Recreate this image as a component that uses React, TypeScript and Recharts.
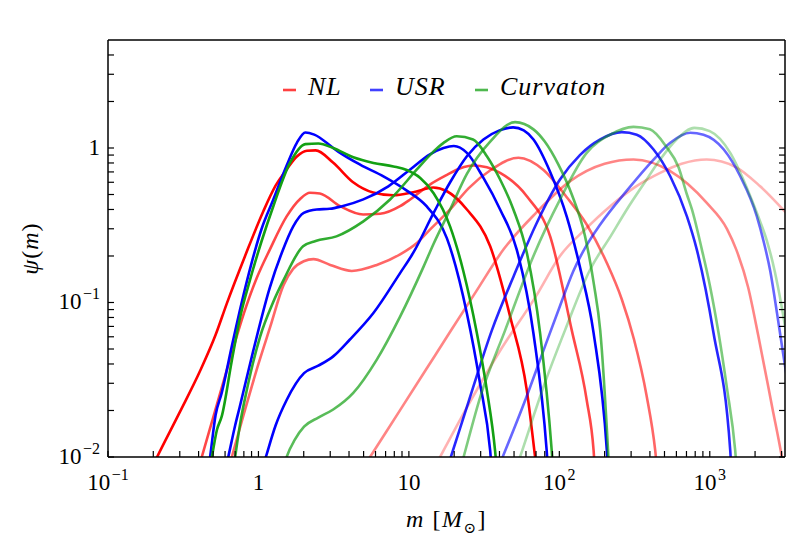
import { LineChart, Line, XAxis, YAxis, Legend, Label } from 'recharts'

const SERIF = '"Liberation Serif", "DejaVu Serif", serif'

// figure + axes box in page pixels (axes are 1px thick, so the box is 108..785 x 40..457)
const W = 789
const H = 548
const MARGIN = { top: 39, right: 3, bottom: 90, left: 107 }
const BOX = { left: 108, top: 40, right: 785, bottom: 457 }

const X_DOMAIN: [number, number] = [0.1, 3162.3]
const Y_DOMAIN: [number, number] = [0.01, 5]
const X_DECADES = [0.1, 1, 10, 100, 1000]
const Y_DECADES = [0.01, 0.1, 1]
const MANTISSAS = [1, 2, 3, 4, 5, 6, 7, 8, 9]

const RED = '#ff0000'
const BLUE = '#0000ff'
const GREEN = '#13a013'

// psi(m) curves, [m (M_sun), psi]
const NL_1: [number, number][] = [
  [0.2, 0.0089], [0.212, 0.01], [0.3, 0.0195], [0.409, 0.036], [0.52, 0.062], [0.615, 0.098],
  [0.815, 0.2], [1.078, 0.39], [1.3, 0.57], [1.54, 0.726], [1.8, 0.88], [2.1, 0.96], [2.4, 0.965],
  [3.13, 0.805], [4.26, 0.6], [5.78, 0.515], [7.85, 0.494], [10.7, 0.517], [14.5, 0.555],
  [17.9, 0.525], [24.3, 0.4], [34.7, 0.231], [47.1, 0.081], [60.8, 0.027], [69, 0.01], [74, 0.0055],
]
const NL_2: [number, number][] = [
  [0.4, 0.0085], [0.42, 0.01], [0.5, 0.018], [0.647, 0.043], [0.8, 0.085], [0.974, 0.144],
  [1.19, 0.22], [1.54, 0.361], [1.9, 0.47], [2.2, 0.513], [2.56, 0.507], [3.49, 0.42], [4.96, 0.371],
  [6.44, 0.375], [8.74, 0.42], [10.2, 0.464], [13.8, 0.58], [17.9, 0.67], [22, 0.74], [26.7, 0.77],
  [33, 0.75], [40.4, 0.69], [60.8, 0.487], [86.9, 0.268], [121, 0.066], [152, 0.0234], [169, 0.011],
  [176, 0.006],
]
const NL_3: [number, number][] = [
  [0.63, 0.0083], [0.665, 0.01], [0.8, 0.019], [1.0, 0.04], [1.2, 0.07], [1.47, 0.13], [1.7, 0.165],
  [2.0, 0.185], [2.32, 0.191], [3.0, 0.175], [4.17, 0.16], [6.12, 0.175], [8.74, 0.205],
  [11.3, 0.243], [13.8, 0.296], [18.8, 0.4], [25, 0.55], [35, 0.72], [53.5, 0.864], [78.5, 0.72],
  [112, 0.48], [152, 0.32], [207, 0.18], [260, 0.105], [313, 0.058], [380, 0.025], [434, 0.011],
  [455, 0.007],
]
const NL_4: [number, number][] = [
  [5.0, 0.0086], [5.52, 0.01], [8.74, 0.0201], [13, 0.0368], [18.8, 0.0646], [28, 0.118],
  [42.5, 0.22], [70, 0.38], [118, 0.61], [200, 0.79], [311, 0.842], [546, 0.708], [955, 0.441],
  [1300, 0.3], [1500, 0.22], [1800, 0.125], [2108, 0.06], [2600, 0.021], [3013, 0.01], [3200, 0.007],
]
const NL_5: [number, number][] = [
  [15, 0.0088], [16.1, 0.01], [25, 0.022], [40, 0.048], [70, 0.11], [101, 0.2], [150, 0.3],
  [218, 0.42], [320, 0.56], [468, 0.69], [650, 0.79], [955, 0.842], [1500, 0.75], [2162, 0.565],
  [3300, 0.37],
]

const USR_1: [number, number][] = [
  [0.46, 0.0078], [0.477, 0.01], [0.519, 0.0187], [0.57, 0.026], [0.665, 0.052], [0.774, 0.1],
  [0.9, 0.18], [1.05, 0.3], [1.256, 0.464], [1.54, 0.77], [1.8, 1.08], [2.05, 1.26], [2.35, 1.22],
  [3.14, 1.0], [3.49, 0.93], [4.74, 0.78], [6.77, 0.655], [9.68, 0.53], [13.1, 0.42], [17.9, 0.26],
  [24.3, 0.085], [29.7, 0.03], [34.7, 0.011], [36.5, 0.006],
]
const USR_2: [number, number][] = [
  [0.61, 0.0087], [0.63, 0.01], [0.7, 0.016], [0.75, 0.021], [0.925, 0.049], [1.19, 0.125],
  [1.43, 0.21], [1.7, 0.31], [2.0, 0.38], [2.44, 0.4], [2.98, 0.404], [3.6, 0.42], [4.98, 0.465],
  [7.3, 0.565], [10.2, 0.726], [13.8, 0.91], [17, 1.0], [19.9, 1.03], [24.3, 0.93], [31.3, 0.64],
  [40.4, 0.4], [52.1, 0.22], [67.3, 0.063], [82.4, 0.011], [86, 0.006],
]
const USR_3: [number, number][] = [
  [1.08, 0.0089], [1.12, 0.01], [1.3, 0.016], [1.54, 0.0234], [2.01, 0.0349], [2.5, 0.039],
  [3.14, 0.0448], [4.04, 0.0574], [5.81, 0.0855], [8.74, 0.155], [10.7, 0.21], [14.6, 0.38],
  [18.8, 0.6], [24.3, 0.885], [31.3, 1.135], [40, 1.3], [49.3, 1.36], [58, 1.3], [67.3, 1.135],
  [86.9, 0.7], [112, 0.36], [137, 0.17], [169, 0.0634], [207, 0.011], [215, 0.006],
]
const USR_4: [number, number][] = [
  [18, 0.0085], [19, 0.01], [25, 0.023], [35.6, 0.066], [50, 0.15], [70, 0.32], [101, 0.625],
  [137, 0.9], [187, 1.135], [260, 1.266], [327, 1.22], [423, 0.978], [546, 0.656], [705, 0.361],
  [820, 0.22], [1059, 0.0634], [1368, 0.011], [1420, 0.006],
]
const USR_5: [number, number][] = [
  [40, 0.0089], [42, 0.01], [60, 0.024], [78.5, 0.049], [101, 0.095], [124, 0.16], [150, 0.23],
  [187, 0.32], [281, 0.53], [423, 0.842], [546, 1.08], [741, 1.254], [908, 1.22], [1239, 0.978],
  [1594, 0.656], [2056, 0.361], [2300, 0.24], [2523, 0.16], [2800, 0.085], [3090, 0.045],
  [3300, 0.03],
]

const CUR_1: [number, number][] = [
  [0.47, 0.0081], [0.49, 0.01], [0.53, 0.015], [0.57, 0.0183], [0.665, 0.042], [0.755, 0.08],
  [0.879, 0.14], [1.05, 0.25], [1.256, 0.42], [1.62, 0.8], [2.05, 1.06], [2.5, 1.07], [3.14, 1.0],
  [4.27, 0.87], [5.81, 0.8], [7.9, 0.76], [9.68, 0.72], [11.9, 0.64], [14.6, 0.51], [18.8, 0.31],
  [23, 0.16], [28.3, 0.0634], [33, 0.027], [37.4, 0.011], [39, 0.007],
]
const CUR_2: [number, number][] = [
  [0.68, 0.0082], [0.7, 0.01], [0.76, 0.017], [0.836, 0.027], [1.025, 0.06], [1.25, 0.1],
  [1.47, 0.14], [1.98, 0.231], [2.4, 0.25], [3.3, 0.268], [4.98, 0.335], [7.5, 0.464],
  [11.3, 0.726], [13.8, 0.9], [17, 1.08], [20.8, 1.19], [26.7, 1.135], [33, 0.885], [40.4, 0.625],
  [49.5, 0.4], [60.8, 0.21], [74.5, 0.0634], [89, 0.011], [93, 0.006],
]
const CUR_3: [number, number][] = [
  [1.48, 0.0088], [1.54, 0.01], [1.75, 0.013], [2.01, 0.0157], [2.5, 0.018], [3.14, 0.0203],
  [4.27, 0.026], [6.12, 0.0427], [8.74, 0.081], [12.5, 0.17], [14.6, 0.24], [18.8, 0.4],
  [24.3, 0.68], [34.7, 1.1], [50.8, 1.47], [67.3, 1.32], [80, 1.1], [98.6, 0.78], [121, 0.5],
  [148, 0.27], [170, 0.13], [187, 0.066], [212, 0.01], [218, 0.006],
]
const CUR_4: [number, number][] = [
  [22, 0.0084], [23.1, 0.01], [30, 0.025], [43.6, 0.066], [67.3, 0.2], [101, 0.463], [152, 0.93],
  [218, 1.22], [311, 1.37], [400, 1.32], [510, 1.03], [620, 0.75], [705, 0.5], [761, 0.4],
  [886, 0.22], [1000, 0.13], [1144, 0.0634], [1300, 0.028], [1476, 0.011], [1550, 0.006],
]
const CUR_5: [number, number][] = [
  [52, 0.0086], [54.8, 0.01], [80, 0.03], [109, 0.066], [160, 0.163], [220, 0.27], [281, 0.4],
  [370, 0.6], [468, 0.842], [601, 1.135], [790, 1.35], [1000, 1.285], [1368, 0.93], [1754, 0.56],
  [2100, 0.36], [2400, 0.25], [2700, 0.16], [3000, 0.095], [3300, 0.055],
]

const SERIES = [
  { key: 'nl5', color: RED, alpha: 0.3, points: NL_5 },
  { key: 'nl4', color: RED, alpha: 0.48, points: NL_4 },
  { key: 'nl3', color: RED, alpha: 0.6, points: NL_3 },
  { key: 'nl2', color: RED, alpha: 0.72, points: NL_2 },
  { key: 'nl1', color: RED, alpha: 1, points: NL_1 },
  { key: 'usr5', color: BLUE, alpha: 0.6, points: USR_5 },
  { key: 'usr4', color: BLUE, alpha: 0.85, points: USR_4 },
  { key: 'usr3', color: BLUE, alpha: 1, points: USR_3 },
  { key: 'usr2', color: BLUE, alpha: 1, points: USR_2 },
  { key: 'usr1', color: BLUE, alpha: 1, points: USR_1 },
  { key: 'cur5', color: GREEN, alpha: 0.35, points: CUR_5 },
  { key: 'cur4', color: GREEN, alpha: 0.55, points: CUR_4 },
  { key: 'cur3', color: GREEN, alpha: 0.7, points: CUR_3 },
  { key: 'cur2', color: GREEN, alpha: 0.88, points: CUR_2 },
  { key: 'cur1', color: GREEN, alpha: 1, points: CUR_1 },
]

const LEGEND = [
  { label: 'NL', color: RED, x: 283 },
  { label: 'USR', color: BLUE, x: 370 },
  { label: 'Curvaton', color: GREEN, x: 475 },
]

const X_TICKS = X_DECADES.flatMap(d => MANTISSAS.map(k => k * d)).filter(v => v <= X_DOMAIN[1])
const Y_TICKS = Y_DECADES.flatMap(d => MANTISSAS.map(k => k * d)).filter(v => v < Y_DOMAIN[1])

const TICK = 6
const TICK_STYLE = { stroke: '#000', strokeWidth: 1.2 }
const AXIS_LINE = { stroke: '#000', strokeWidth: 1.5 }

const isDecade = (v: number) => Math.abs(Math.log10(v) - Math.round(Math.log10(v))) < 1e-6

function powerParts(v: number): [string, string | null] {
  const e = Math.round(Math.log10(v))
  if (e === 0) return ['1', null]
  if (e === 1) return ['10', null]
  return ['10', e < 0 ? `\u2212${-e}` : `${e}`]
}

function TickText({ x, y, v, anchor }: { x: number; y: number; v: number; anchor: 'middle' | 'end' }) {
  const [base, exp] = powerParts(v)
  return (
    <text x={x} y={y} textAnchor={anchor} fontFamily={SERIF} fontSize={23} fill="#000">
      {base}
      {exp && <tspan dy={-10} dx={1.5} fontSize={16}>{exp}</tspan>}
    </text>
  )
}

const BottomTick = ({ x, y, payload }: any) => (
  <g>
    <line x1={x} x2={x} y1={y} y2={y - TICK} {...TICK_STYLE} />
    {isDecade(payload.value) && <TickText x={x} y={y + 33} v={payload.value} anchor="middle" />}
  </g>
)

const TopTick = ({ x, y }: any) => <line x1={x} x2={x} y1={y} y2={y + TICK} {...TICK_STYLE} />

const LeftTick = ({ x, y, payload }: any) => (
  <g>
    <line x1={x} x2={x + TICK} y1={y} y2={y} {...TICK_STYLE} />
    {isDecade(payload.value) && <TickText x={x - 8} y={y + 7} v={payload.value} anchor="end" />}
  </g>
)

const RightTick = ({ x, y }: any) => <line x1={x} x2={x - TICK} y1={y} y2={y} {...TICK_STYLE} />

const XTitle = () => (
  <text x={(BOX.left + BOX.right) / 2} y={527} textAnchor="middle" fontFamily={SERIF} fontSize={24} letterSpacing={1.5} fill="#000">
    <tspan fontStyle="italic">m</tspan>
    <tspan> [</tspan>
    <tspan fontStyle="italic">M</tspan>
    <tspan dy={6} fontSize={15}>⊙</tspan>
    <tspan dy={-6}>]</tspan>
  </text>
)

const YTitle = () => {
  const cx = 38
  const cy = (BOX.top + BOX.bottom) / 2
  return (
    <text x={cx} y={cy} transform={`rotate(-90 ${cx} ${cy})`} textAnchor="middle" fontFamily={SERIF} fontSize={24} letterSpacing={1} fill="#000">
      <tspan fontStyle="italic">ψ</tspan>
      <tspan>(</tspan>
      <tspan fontStyle="italic">m</tspan>
      <tspan>)</tspan>
    </text>
  )
}

const LegendBox = () => (
  <svg width={W} height={50} style={{ display: 'block' }}>
    {LEGEND.map(item => (
      <g key={item.label}>
        <line x1={item.x} x2={item.x + 13} y1={28} y2={28} stroke={item.color} strokeWidth={2.6} strokeOpacity={0.75} />
        <text x={item.x + 25} y={33} fontFamily={SERIF} fontStyle="italic" fontSize={26} letterSpacing={1} fill="#000">
          {item.label}
        </text>
      </g>
    ))}
  </svg>
)

export default function App() {
  return (
    <div style={{ position: 'absolute', left: 0, top: 0, width: W, height: H, background: '#fff' }}>
      <LineChart width={W} height={H} margin={MARGIN}>
        <XAxis
          xAxisId="b" dataKey="m" type="number" scale="log" domain={X_DOMAIN} allowDataOverflow
          ticks={X_TICKS} interval={0} tickLine={false} tickSize={0} tickMargin={0} height={1}
          axisLine={AXIS_LINE} tick={BottomTick}
        >
          <Label content={XTitle} />
        </XAxis>
        <XAxis
          xAxisId="t" orientation="top" type="number" scale="log" domain={X_DOMAIN} allowDataOverflow
          ticks={X_TICKS} interval={0} tickLine={false} tickSize={0} tickMargin={0} height={1}
          axisLine={AXIS_LINE} tick={TopTick}
        />
        <YAxis
          yAxisId="l" type="number" scale="log" domain={Y_DOMAIN} allowDataOverflow
          ticks={Y_TICKS} interval={0} tickLine={false} tickSize={0} tickMargin={0} width={1}
          axisLine={AXIS_LINE} tick={LeftTick}
        >
          <Label content={YTitle} />
        </YAxis>
        <YAxis
          yAxisId="r" orientation="right" type="number" scale="log" domain={Y_DOMAIN} allowDataOverflow
          ticks={Y_TICKS} interval={0} tickLine={false} tickSize={0} tickMargin={0} width={1}
          axisLine={AXIS_LINE} tick={RightTick}
        />
        <Legend
          layout="vertical" align="center" verticalAlign="middle" content={LegendBox}
          wrapperStyle={{ top: 62, left: 0, width: W, height: 50 }}
        />
        {SERIES.map(s => (
          <Line
            key={s.key}
            xAxisId="b"
            yAxisId="l"
            data={s.points.map(([m, psi]) => ({ m, psi }))}
            dataKey="psi"
            type="monotone"
            stroke={s.color}
            strokeOpacity={s.alpha}
            strokeWidth={2.6}
            dot={false}
            activeDot={false}
            isAnimationActive={false}
          />
        ))}
      </LineChart>
    </div>
  )
}
